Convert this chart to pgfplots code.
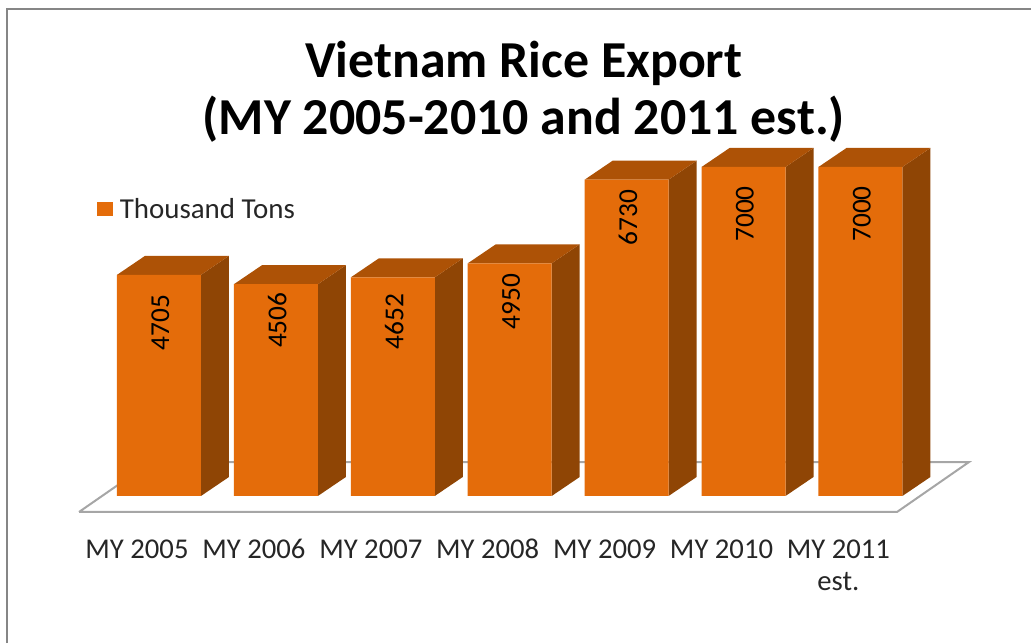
\documentclass[border=0pt]{standalone}
\usepackage{fontspec}
\setmainfont{Carlito}
\usepackage{pgfplots}
\pgfplotsset{compat=1.18}

\definecolor{barfront}{HTML}{E46C0A}
\definecolor{bartop}{HTML}{AD5206}
\definecolor{barside}{HTML}{8F4505}
\definecolor{framegray}{HTML}{868686}
\definecolor{floorgray}{HTML}{A6A6A6}
\definecolor{labeltext}{HTML}{262626}

\begin{document}
\begin{tikzpicture}
\begin{axis}[
    scale only axis,
    width=773.25pt,
    height=482.25pt,
    xmin=-1.360, xmax=7.459,
    ymin=-3128, ymax=10553,
    axis line style={draw=none},
    tick style={draw=none},
    ytick=\empty,
    xtick={0,1,2,3,4,5,6},
    xticklabels={MY 2005,MY 2006,MY 2007,MY 2008,MY 2009,MY 2010,{MY 2011\\est.}},
    typeset ticklabels with strut,
    xticklabel style={align=center, font=\fontsize{21.5}{24}\selectfont, text=labeltext, yshift=84pt, xshift=-16.5pt},
    title={Vietnam Rice Export\\(MY 2005-2010 and 2011 est.)},
    title style={at={(axis description cs:0.508,0.845)}, anchor=center, align=center,
        font=\fontsize{38.9}{42.5}\selectfont\bfseries},
    legend style={at={(axis description cs:0.094,0.675)}, anchor=west, draw=none, fill=none,
        font=\fontsize{21.7}{23}\selectfont, text=labeltext, inner sep=0pt, column sep=3pt},
    legend image code/.code={\fill[barfront] (0pt,-5.5pt) rectangle (12pt,5.5pt);},
    /pgf/number format/1000 sep={},
    /pgf/number format/assume math mode=true,
]
    % frame
    \addplot[framegray, line width=2.1pt, forget plot] coordinates {(-1.300,-3128) (-1.300,10362) (7.459,10362)};

    % floor
    \addplot[floorgray, line width=1.5pt, forget plot] coordinates {(-0.684,-340) (6.313,-340) (6.929,723) (-0.068,723) (-0.684,-340)};

    % side faces
    \addplot[draw=none, fill=barside, unbounded coords=jump, forget plot] coordinates {
        (0.359,0) (0.5985,404) (0.5985,5109) (0.359,4705) (0.359,0) (nan,nan)
        (1.359,0) (1.5985,404) (1.5985,4910) (1.359,4506) (1.359,0) (nan,nan)
        (2.359,0) (2.5985,404) (2.5985,5056) (2.359,4652) (2.359,0) (nan,nan)
        (3.359,0) (3.5985,404) (3.5985,5354) (3.359,4950) (3.359,0) (nan,nan)
        (4.359,0) (4.5985,404) (4.5985,7134) (4.359,6730) (4.359,0) (nan,nan)
        (5.359,0) (5.5985,404) (5.5985,7404) (5.359,7000) (5.359,0) (nan,nan)
        (6.359,0) (6.5985,404) (6.5985,7404) (6.359,7000) (6.359,0)
    };

    % top faces
    \addplot[draw=none, fill=bartop, unbounded coords=jump, forget plot] coordinates {
        (-0.359,4705) (-0.1195,5109) (0.5985,5109) (0.359,4705) (-0.359,4705) (nan,nan)
        (0.641,4506) (0.8805,4910) (1.5985,4910) (1.359,4506) (0.641,4506) (nan,nan)
        (1.641,4652) (1.8805,5056) (2.5985,5056) (2.359,4652) (1.641,4652) (nan,nan)
        (2.641,4950) (2.8805,5354) (3.5985,5354) (3.359,4950) (2.641,4950) (nan,nan)
        (3.641,6730) (3.8805,7134) (4.5985,7134) (4.359,6730) (3.641,6730) (nan,nan)
        (4.641,7000) (4.8805,7404) (5.5985,7404) (5.359,7000) (4.641,7000) (nan,nan)
        (5.641,7000) (5.8805,7404) (6.5985,7404) (6.359,7000) (5.641,7000)
    };

    % front faces, off = drop of the value label below the bar top (pt)
    \addplot[ybar, bar width=63pt, bar shift=0pt, draw=none, fill=barfront,
        visualization depends on={value \thisrow{off} \as \labeloff},
        nodes near coords,
        nodes near coords style={rotate=90, anchor=east, xshift=-\labeloff pt, yshift=-1pt,
            font=\fontsize{20.5}{22}\selectfont, text=black, inner sep=0pt},
    ] table[x=i, y=tons] {
        i tons off
        0 4705 15
        1 4506 6
        2 4652 12
        3 4950 7.5
        4 6730 7.5
        5 7000 14.25
        6 7000 14.25
    };
    \legend{Thousand Tons}
\end{axis}
\end{tikzpicture}
\end{document}
